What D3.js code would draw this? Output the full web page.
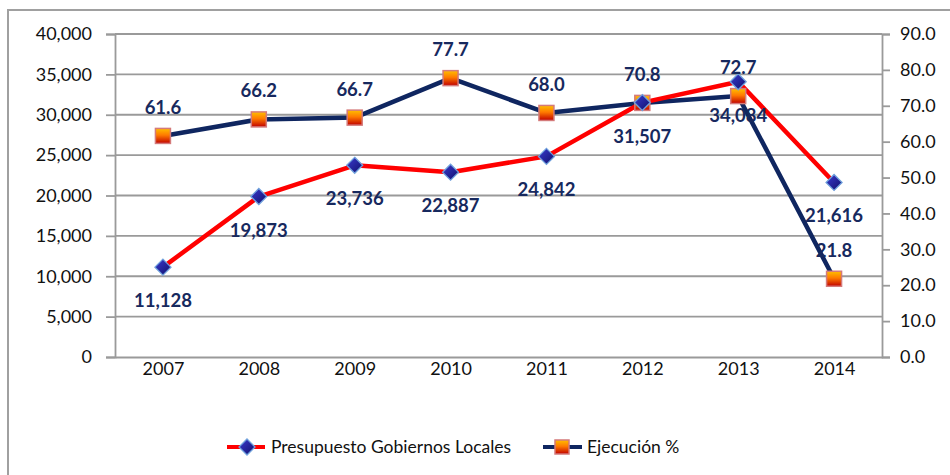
<!DOCTYPE html>
<html>
<head>
<meta charset="utf-8">
<script src="https://cdn.jsdelivr.net/npm/d3@7"></script>
<style>
  body { margin: 0; background: #ffffff; }
  svg { display: block; font-family: Lato, "Open Sans", sans-serif; }
</style>
</head>
<body>
<svg></svg>
<script>
var years = ["2007", "2008", "2009", "2010", "2011", "2012", "2013", "2014"];
var presupuesto = [11128, 19873, 23736, 22887, 24842, 31507, 34084, 21616];
var ejecucion = [61.6, 66.2, 66.7, 77.7, 68.0, 70.8, 72.7, 21.8];
var leftTicks = [0, 5000, 10000, 15000, 20000, 25000, 30000, 35000, 40000];
var rightTicks = [0, 10, 20, 30, 40, 50, 60, 70, 80, 90];
var seriesNames = ["Presupuesto Gobiernos Locales", "Ejecución %"];

var screen = { width: 950, height: 475 };

var margins = {
  left: 115, //space for left axis
  top: 34,
  bottom: 118, //years + legend
  right: 68 //right axis
}

var width = screen.width - margins.left - margins.right;
var height = screen.height - margins.top - margins.bottom;

var navy = "#0f2660";
var labelColor = "#17295e";
var gridColor = "#9a9a9a";
var axisFont = "18px";

var svg = d3.select("svg")
            .attr("width", screen.width)
            .attr("height", screen.height);

//gradients for the markers
var defs = svg.append("defs");
var sqGrad = defs.append("linearGradient")
                 .attr("id", "sqGrad")
                 .attr("x1", 0).attr("y1", 0).attr("x2", 0).attr("y2", 1);
sqGrad.append("stop").attr("offset", "0%").attr("stop-color", "#ffc000");
sqGrad.append("stop").attr("offset", "45%").attr("stop-color", "#ff7a00");
sqGrad.append("stop").attr("offset", "100%").attr("stop-color", "#c00000");

var dmGrad = defs.append("linearGradient")
                 .attr("id", "dmGrad")
                 .attr("x1", 0).attr("y1", 0).attr("x2", 1).attr("y2", 1);
dmGrad.append("stop").attr("offset", "0%").attr("stop-color", "#3a3ad0");
dmGrad.append("stop").attr("offset", "100%").attr("stop-color", "#10106a");

//outer frame (cut at right and bottom)
svg.append("path")
   .attr("d", "M8," + (screen.height + 5) + " L8,10 L" + (screen.width + 5) + ",10")
   .attr("fill", "none")
   .attr("stroke", "#a0a0a0")
   .attr("stroke-width", 2);

var xScale = d3.scalePoint()
               .domain(years)
               .range([margins.left, margins.left + width])
               .padding(0.5);

var yLeft = d3.scaleLinear()
              .domain([0, 40000])
              .range([margins.top + height, margins.top]);

var yRight = d3.scaleLinear()
               .domain([0, 90])
               .range([margins.top + height, margins.top]);

//gridlines
svg.append("g")
   .selectAll("line")
   .data(leftTicks.slice(1))
   .enter()
   .append("line")
   .attr("x1", margins.left)
   .attr("x2", margins.left + width)
   .attr("y1", function(d) {return yLeft(d);} )
   .attr("y2", function(d) {return yLeft(d);} )
   .attr("stroke", gridColor)
   .attr("stroke-width", 1.8);

var styleAxis = function(g) {
  g.select(".domain").attr("stroke", gridColor).attr("stroke-width", 1.8);
  g.selectAll(".tick line").attr("stroke", gridColor).attr("stroke-width", 1.8);
  g.selectAll("text").attr("fill", "#111").style("font-size", axisFont).style("font-family", "Lato, sans-serif");
}

//left axis
var yAxisLeft = d3.axisLeft(yLeft)
                  .tickValues(leftTicks)
                  .tickSize(9)
                  .tickPadding(14)
                  .tickFormat(d3.format(","));

svg.append("g")
   .attr("transform", "translate(" + margins.left + ",0)")
   .call(yAxisLeft)
   .call(styleAxis);

//right axis
var yAxisRight = d3.axisRight(yRight)
                   .tickValues(rightTicks)
                   .tickSize(8)
                   .tickPadding(10)
                   .tickFormat(d3.format(".1f"));

svg.append("g")
   .attr("transform", "translate(" + (margins.left + width) + ",0)")
   .call(yAxisRight)
   .call(styleAxis);

//x axis (bottom line + year labels)
var xAxis = d3.axisBottom(xScale)
              .tickSize(0)
              .tickPadding(5);

svg.append("g")
   .attr("transform", "translate(0," + (margins.top + height) + ")")
   .call(xAxis)
   .call(styleAxis);

//lines
var linePres = d3.line()
                 .x(function(d, i) {return xScale(years[i]);} )
                 .y(function(d) {return yLeft(d);} );

var lineEje = d3.line()
                .x(function(d, i) {return xScale(years[i]);} )
                .y(function(d) {return yRight(d);} );

svg.append("path")
   .datum(ejecucion)
   .attr("d", lineEje)
   .attr("fill", "none")
   .attr("stroke", navy)
   .attr("stroke-width", 4.5)
   .attr("stroke-linejoin", "round");

svg.append("path")
   .datum(presupuesto)
   .attr("d", linePres)
   .attr("fill", "none")
   .attr("stroke", "#ff0000")
   .attr("stroke-width", 4.5)
   .attr("stroke-linejoin", "round");

//markers
var diamond = function(g, cx, cy, r) {
  g.append("path")
   .attr("d", "M" + cx + "," + (cy - r) + " L" + (cx + r) + "," + cy + " L" + cx + "," + (cy + r) + " L" + (cx - r) + "," + cy + " Z")
   .attr("fill", "url(#dmGrad)")
   .attr("stroke", "#6fa0dc")
   .attr("stroke-width", 1.3);
}

var square = function(g, cx, cy, s) {
  g.append("rect")
   .attr("x", cx - s / 2)
   .attr("y", cy - s / 2)
   .attr("width", s)
   .attr("height", s)
   .attr("fill", "url(#sqGrad)")
   .attr("stroke", "#d47a7a")
   .attr("stroke-width", 1.5);
}

var markers = svg.append("g");
ejecucion.forEach(function(d, i) {
  square(markers, xScale(years[i]), yRight(d), 15);
});
presupuesto.forEach(function(d, i) {
  diamond(markers, xScale(years[i]), yLeft(d), 8);
});

//data labels
svg.append("g")
   .selectAll("text")
   .data(presupuesto)
   .enter()
   .append("text")
   .attr("x", function(d, i) {return xScale(years[i]);} )
   .attr("y", function(d) {return yLeft(d) + 40;} )
   .attr("text-anchor", "middle")
   .attr("fill", labelColor)
   .style("font-size", "18.5px")
   .style("font-weight", "bold")
   .text(function(d) {return d3.format(",")(d);} );

svg.append("g")
   .selectAll("text")
   .data(ejecucion)
   .enter()
   .append("text")
   .attr("x", function(d, i) {return xScale(years[i]);} )
   .attr("y", function(d) {return yRight(d) - 22;} )
   .attr("text-anchor", "middle")
   .attr("fill", labelColor)
   .style("font-size", "18.5px")
   .style("font-weight", "bold")
   .text(function(d) {return d3.format(".1f")(d);} );

//legend
var legend = svg.append("g")
                .attr("transform", "translate(0,447)");

legend.append("line")
      .attr("x1", 227).attr("x2", 265)
      .attr("y1", 0).attr("y2", 0)
      .attr("stroke", "#ff0000")
      .attr("stroke-width", 4);
diamond(legend, 247, 0, 8);
legend.append("text")
      .attr("x", 271)
      .attr("y", 6)
      .attr("fill", "#111")
      .style("font-size", "17.5px")
      .text(seriesNames[0]);

legend.append("line")
      .attr("x1", 543).attr("x2", 582)
      .attr("y1", 0).attr("y2", 0)
      .attr("stroke", navy)
      .attr("stroke-width", 4);
square(legend, 562, 0, 14);
legend.append("text")
      .attr("x", 587)
      .attr("y", 6)
      .attr("fill", "#111")
      .style("font-size", "17.5px")
      .text(seriesNames[1]);
</script>
</body>
</html>
